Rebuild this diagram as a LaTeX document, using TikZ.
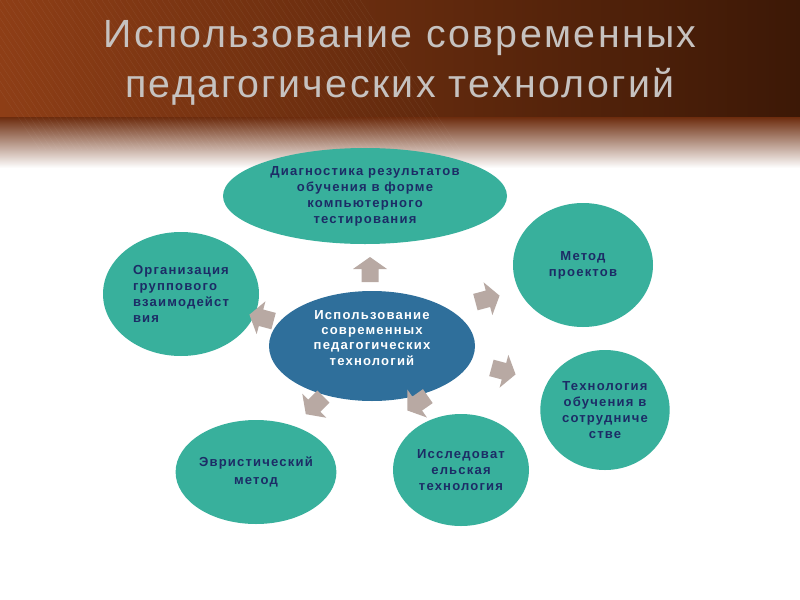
\documentclass[tikz,border=0pt]{standalone}
\usepackage{fontspec}
\setmainfont{Liberation Sans}
\newfontfamily\titlefont[LetterSpace=6]{Liberation Sans}
\newfontfamily\bubblefont[LetterSpace=9]{Liberation Sans}
\usetikzlibrary{shapes.geometric}
\definecolor{brownL}{HTML}{8E3E16}
\definecolor{brownD}{HTML}{3C1806}
\definecolor{brownM}{HTML}{6E2E10}
\definecolor{teal}{HTML}{38B09C}
\definecolor{steel}{HTML}{2F6F9B}
\definecolor{navy}{HTML}{1C2C66}
\definecolor{arrowc}{HTML}{B8A9A3}
\definecolor{titlec}{HTML}{C6C2C0}
\tikzset{
  bubble/.style={ellipse, fill=teal, inner sep=0pt, text=navy, font=\bubblefont\bfseries\fontsize{9.8}{12}\selectfont, align=center},
  hub/.style={ellipse, fill=steel, inner sep=0pt},
  hubtext/.style={inner sep=0pt, text=white, font=\bubblefont\bfseries\fontsize{9.8}{11.3}\selectfont, align=center},
  blockarrow/.style={fill=arrowc},
  titletext/.style={text=titlec, font=\titlefont\fontsize{29.5}{37.5}\selectfont, align=center}
}
\begin{document}
\begin{tikzpicture}[x=0.75pt,y=-0.75pt]
\useasboundingbox (0,0) rectangle (800,600);
\fill[white] (0,0) rectangle (800,600);
\shade[left color=brownL, right color=brownD] (0,0) rectangle (800,118);
\shade[top color=brownM, bottom color=white] (0,117.5) rectangle (800,168);
\begin{scope}
\clip (0,0) rectangle (800,150);
\foreach \i in {0,6,...,420} {
  \draw[white, opacity=0.06, line width=0.4pt] (\i-60,0) -- (\i+40,150);
}
\end{scope}
\node[titletext] (title) at (400,63) {Использование современных\\педагогических технологий};

\node[hub, minimum width=154.5pt, minimum height=82.5pt] (c) at (372,346) {};
\node[hubtext] (ctext) at (372,338) {Использование\\современных\\педагогических\\технологий};
\node[bubble, minimum width=213pt, minimum height=72pt] (top) at (365,196) {Диагностика результатов\\обучения в форме\\компьютерного\\тестирования};
\node[bubble, minimum width=117pt, minimum height=93pt, align=left] (org) at (181,294) {Организация\\группового\\взаимодейст\\вия};
\node[bubble, minimum width=105pt, minimum height=93pt] (met) at (583,265) {Метод\\проектов};
\node[bubble, minimum width=97pt, minimum height=90pt] (sotr) at (605,410) {Технология\\обучения в\\сотрудниче\\стве};
\node[bubble, minimum width=120pt, minimum height=78pt, font=\bubblefont\bfseries\fontsize{9.8}{14}\selectfont] (evr) at (256,472) {Эвристический\\метод};
\node[bubble, minimum width=102pt, minimum height=84pt] (iss) at (461,470) {Исследоват\\ельская\\технология};

\foreach \px/\py/\ang in {370/270/90, 262/318/165, 487/299/15, 503/371/-15, 315/405/225, 418/403/215} {
  \fill[blockarrow, shift={(\px,\py)}, rotate=\ang]
    (-12,-8.5) -- (1,-8.5) -- (1,-17) -- (13,0) -- (1,17) -- (1,8.5) -- (-12,8.5) -- cycle;
}
\end{tikzpicture}
\end{document}
